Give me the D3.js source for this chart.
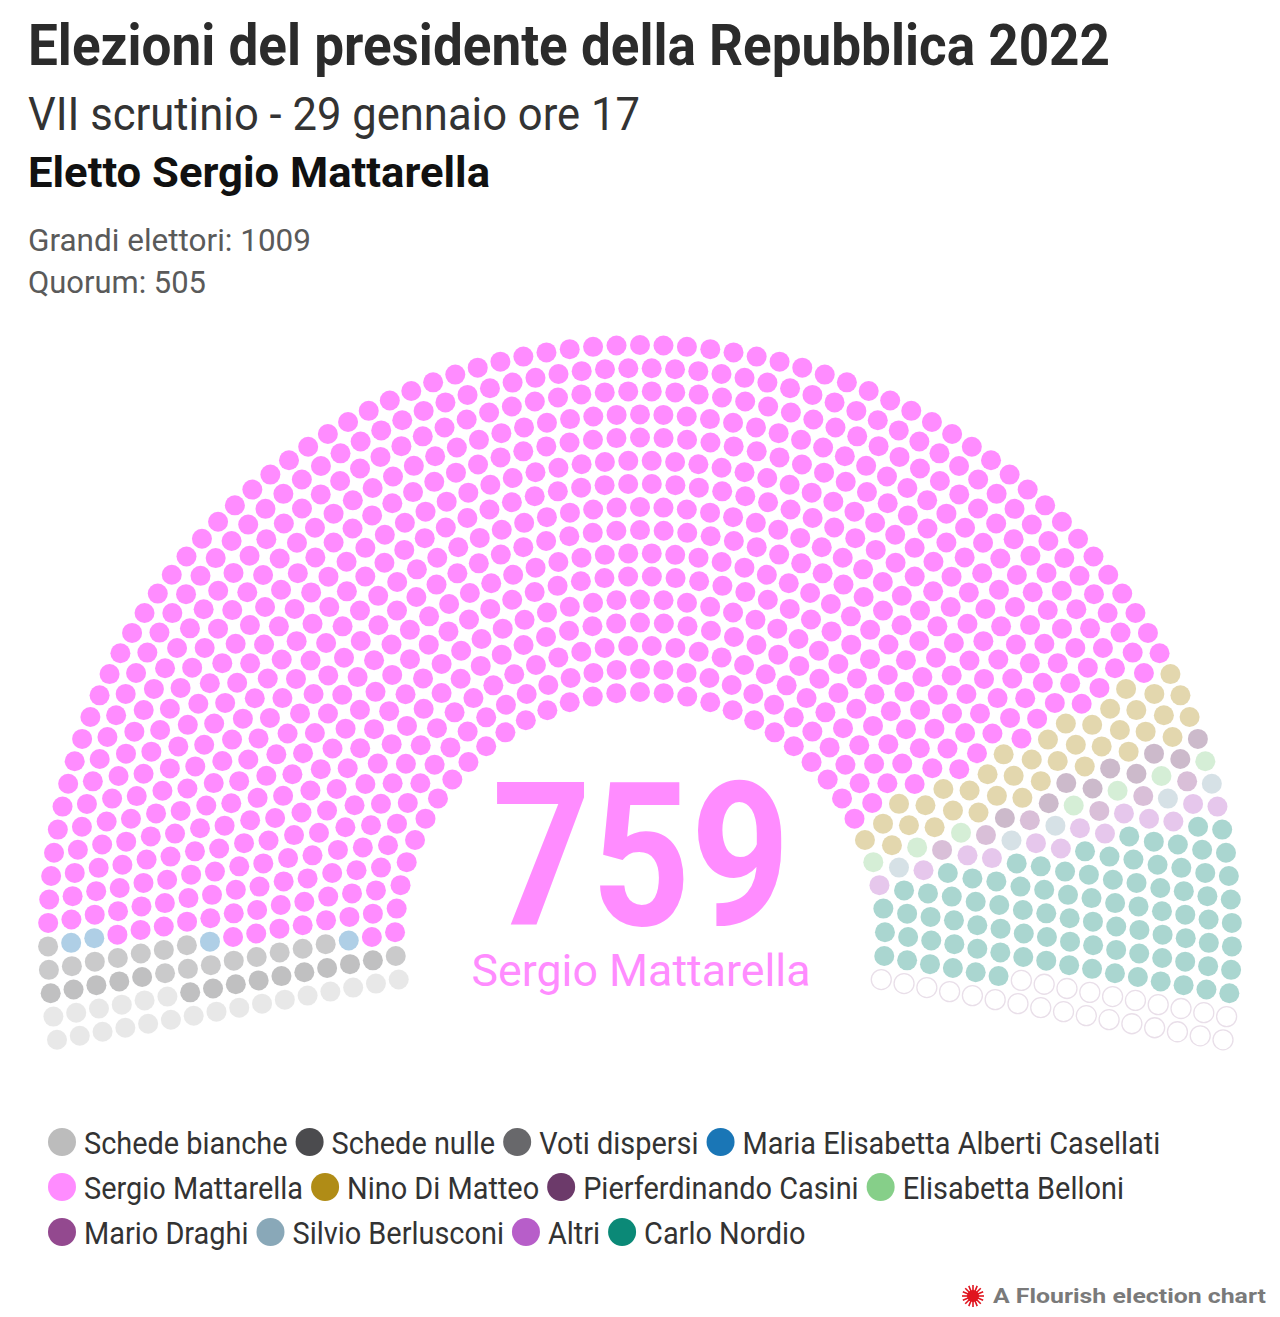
<!DOCTYPE html>
<html>
<head>
<meta charset="utf-8">
<script src="https://cdn.jsdelivr.net/npm/d3@7"></script>
<style>
  html, body { margin: 0; padding: 0; background: #ffffff; }
  svg { display: block; }
  text { font-family: Roboto, "Noto Sans", sans-serif; }
</style>
</head>
<body>
<svg id="chart" width="1280" height="1317"></svg>
<script>
// ---------------- DATA ----------------
const categories = [
  "Schede bianche", "Schede nulle", "Voti dispersi", "Maria Elisabetta Alberti Casellati",
  "Sergio Mattarella", "Nino Di Matteo", "Pierferdinando Casini", "Elisabetta Belloni",
  "Mario Draghi", "Silvio Berlusconi", "Altri", "Carlo Nordio"
];
const votes = [22, 14, 17, 4, 759, 37, 9, 7, 6, 5, 13, 90];
const colors = [
  "#bcbcbc", "#4b4b4e", "#68686b", "#1a76b6",
  "#ff8cff", "#b08c16", "#6c3a6a", "#86cf89",
  "#93498f", "#89a8b8", "#b75ec9", "#0b8977"
];
const totalSeats = 1009;
const quorum = 505;
const highlighted = "Sergio Mattarella";
const titleText = "Elezioni del presidente della Repubblica 2022";
const subtitleText = "VII scrutinio - 29 gennaio ore 17";
const resultText = "Eletto Sergio Mattarella";

// ---------------- LAYOUT ----------------
const svg = d3.select("#chart");
const cx = 640, cy = 937;
const nRows = 16;
const rInner = 245, rOuter = 592;
const dotR = 10;
const fadeOpacity = 0.35;
const startDeg = 190, endDeg = -10;

const rowRadius = d3.scaleLinear().domain([0, nRows - 1]).range([rInner, rOuter]);
const radii = d3.range(nRows).map(rowRadius);
const sumR = d3.sum(radii);

// seats per row proportional to radius (largest remainder)
const raw = radii.map(r => totalSeats * r / sumR);
const perRow = raw.map(Math.floor);
const leftover = totalSeats - d3.sum(perRow);
raw.map((v, i) => ({ i, rem: v - Math.floor(v) }))
   .sort((a, b) => b.rem - a.rem)
   .slice(0, leftover)
   .forEach(d => perRow[d.i] += 1);

const seats = [];
perRow.forEach((n, row) => {
  const ang = d3.scaleLinear().domain([0, n - 1]).range([startDeg, endDeg]);
  for (let k = 0; k < n; k++) {
    const a = ang(k) * Math.PI / 180;
    seats.push({ row, angle: ang(k), x: cx + radii[row] * Math.cos(a), y: cy - radii[row] * Math.sin(a) });
  }
});
seats.sort((a, b) => (b.angle - a.angle) || (a.row - b.row));

// assign parties in order; remaining seats are empty (absent electors)
let idx = 0;
categories.forEach((c, ci) => {
  for (let v = 0; v < votes[ci]; v++) { seats[idx].party = ci; idx++; }
});
for (; idx < seats.length; idx++) seats[idx].party = -1;

const colorScale = d3.scaleOrdinal().domain(categories).range(colors);
const hiIndex = categories.indexOf(highlighted);

svg.append("g").selectAll("circle.seat")
  .data(seats)
  .join("circle")
  .attr("class", "seat")
  .attr("cx", d => d.x)
  .attr("cy", d => d.y)
  .attr("r", dotR)
  .attr("fill", d => d.party < 0 ? "#ffffff" : colorScale(categories[d.party]))
  .attr("fill-opacity", d => (d.party === hiIndex || d.party < 0) ? 1 : fadeOpacity)
  .attr("stroke", d => d.party < 0 ? "#e9dfe9" : "none")
  .attr("stroke-width", d => d.party < 0 ? 1.3 : 0);

// ---------------- CENTER LABEL ----------------
svg.append("text")
  .attr("x", 641).attr("y", 925)
  .attr("text-anchor", "middle")
  .attr("font-size", 200).attr("font-weight", 700)
  .attr("fill", colorScale(highlighted))
  .attr("textLength", 298).attr("lengthAdjust", "spacingAndGlyphs")
  .text(votes[hiIndex]);
svg.append("text")
  .attr("x", 641).attr("y", 986)
  .attr("text-anchor", "middle")
  .attr("font-size", 45).attr("font-weight", 400)
  .attr("fill", colorScale(highlighted))
  .attr("textLength", 339).attr("lengthAdjust", "spacingAndGlyphs")
  .text(highlighted);

// ---------------- HEADER ----------------
function headText(txt, x, y, size, weight, fill, len) {
  svg.append("text")
    .attr("x", x).attr("y", y)
    .attr("font-size", size).attr("font-weight", weight)
    .attr("fill", fill)
    .attr("textLength", len).attr("lengthAdjust", "spacingAndGlyphs")
    .text(txt);
}
headText(titleText, 28, 65, 57, 700, "#2b2b2b", 1082);
headText(subtitleText, 28, 130, 46, 400, "#333333", 612);
headText(resultText, 28, 187, 43, 700, "#111111", 462);
headText("Grandi elettori: " + totalSeats, 28, 251, 32, 400, "#5a5a5a", 283);
headText("Quorum: " + quorum, 28, 293, 32, 400, "#5a5a5a", 178);

// ---------------- LEGEND ----------------
const legendRowsY = [1142, 1187, 1232];
const legendX0 = 48, legendMaxX = 1245, swR = 14, condense = 0.903;
let lx = legendX0, lrow = 0;
const gLeg = svg.append("g");
categories.forEach((c, i) => {
  const t = gLeg.append("text")
    .attr("font-size", 32).attr("fill", "#333333")
    .attr("dominant-baseline", "central")
    .text(c);
  const w = t.node().getComputedTextLength() * condense;
  if (lx + 2 * swR + 8 + w > legendMaxX) { lrow += 1; lx = legendX0; }
  const y = legendRowsY[lrow];
  gLeg.append("circle")
    .attr("cx", lx + swR).attr("cy", y).attr("r", swR)
    .attr("fill", colorScale(c));
  t.attr("x", lx + swR + 22).attr("y", y + 1)
   .attr("textLength", w).attr("lengthAdjust", "spacingAndGlyphs");
  lx = lx + swR + 22 + w + 8;
});

// ---------------- FOOTER ----------------
const logo = svg.append("g").attr("transform", "translate(973,1296)");
d3.range(16).forEach(k => {
  const a = k * Math.PI / 8;
  logo.append("line")
    .attr("x1", 0).attr("y1", 0)
    .attr("x2", 11 * Math.cos(a)).attr("y2", 11 * Math.sin(a))
    .attr("stroke", "#e0141e").attr("stroke-width", 1.6);
});
logo.append("circle").attr("r", 6).attr("fill", "#e0141e");
svg.append("text")
  .attr("x", 993).attr("y", 1303)
  .attr("font-family", "'Liberation Sans', Arial, sans-serif")
  .attr("font-size", 21).attr("font-weight", 700)
  .attr("fill", "#7a7a7a")
  .attr("textLength", 273).attr("lengthAdjust", "spacingAndGlyphs")
  .text("A Flourish election chart");
</script>
</body>
</html>
